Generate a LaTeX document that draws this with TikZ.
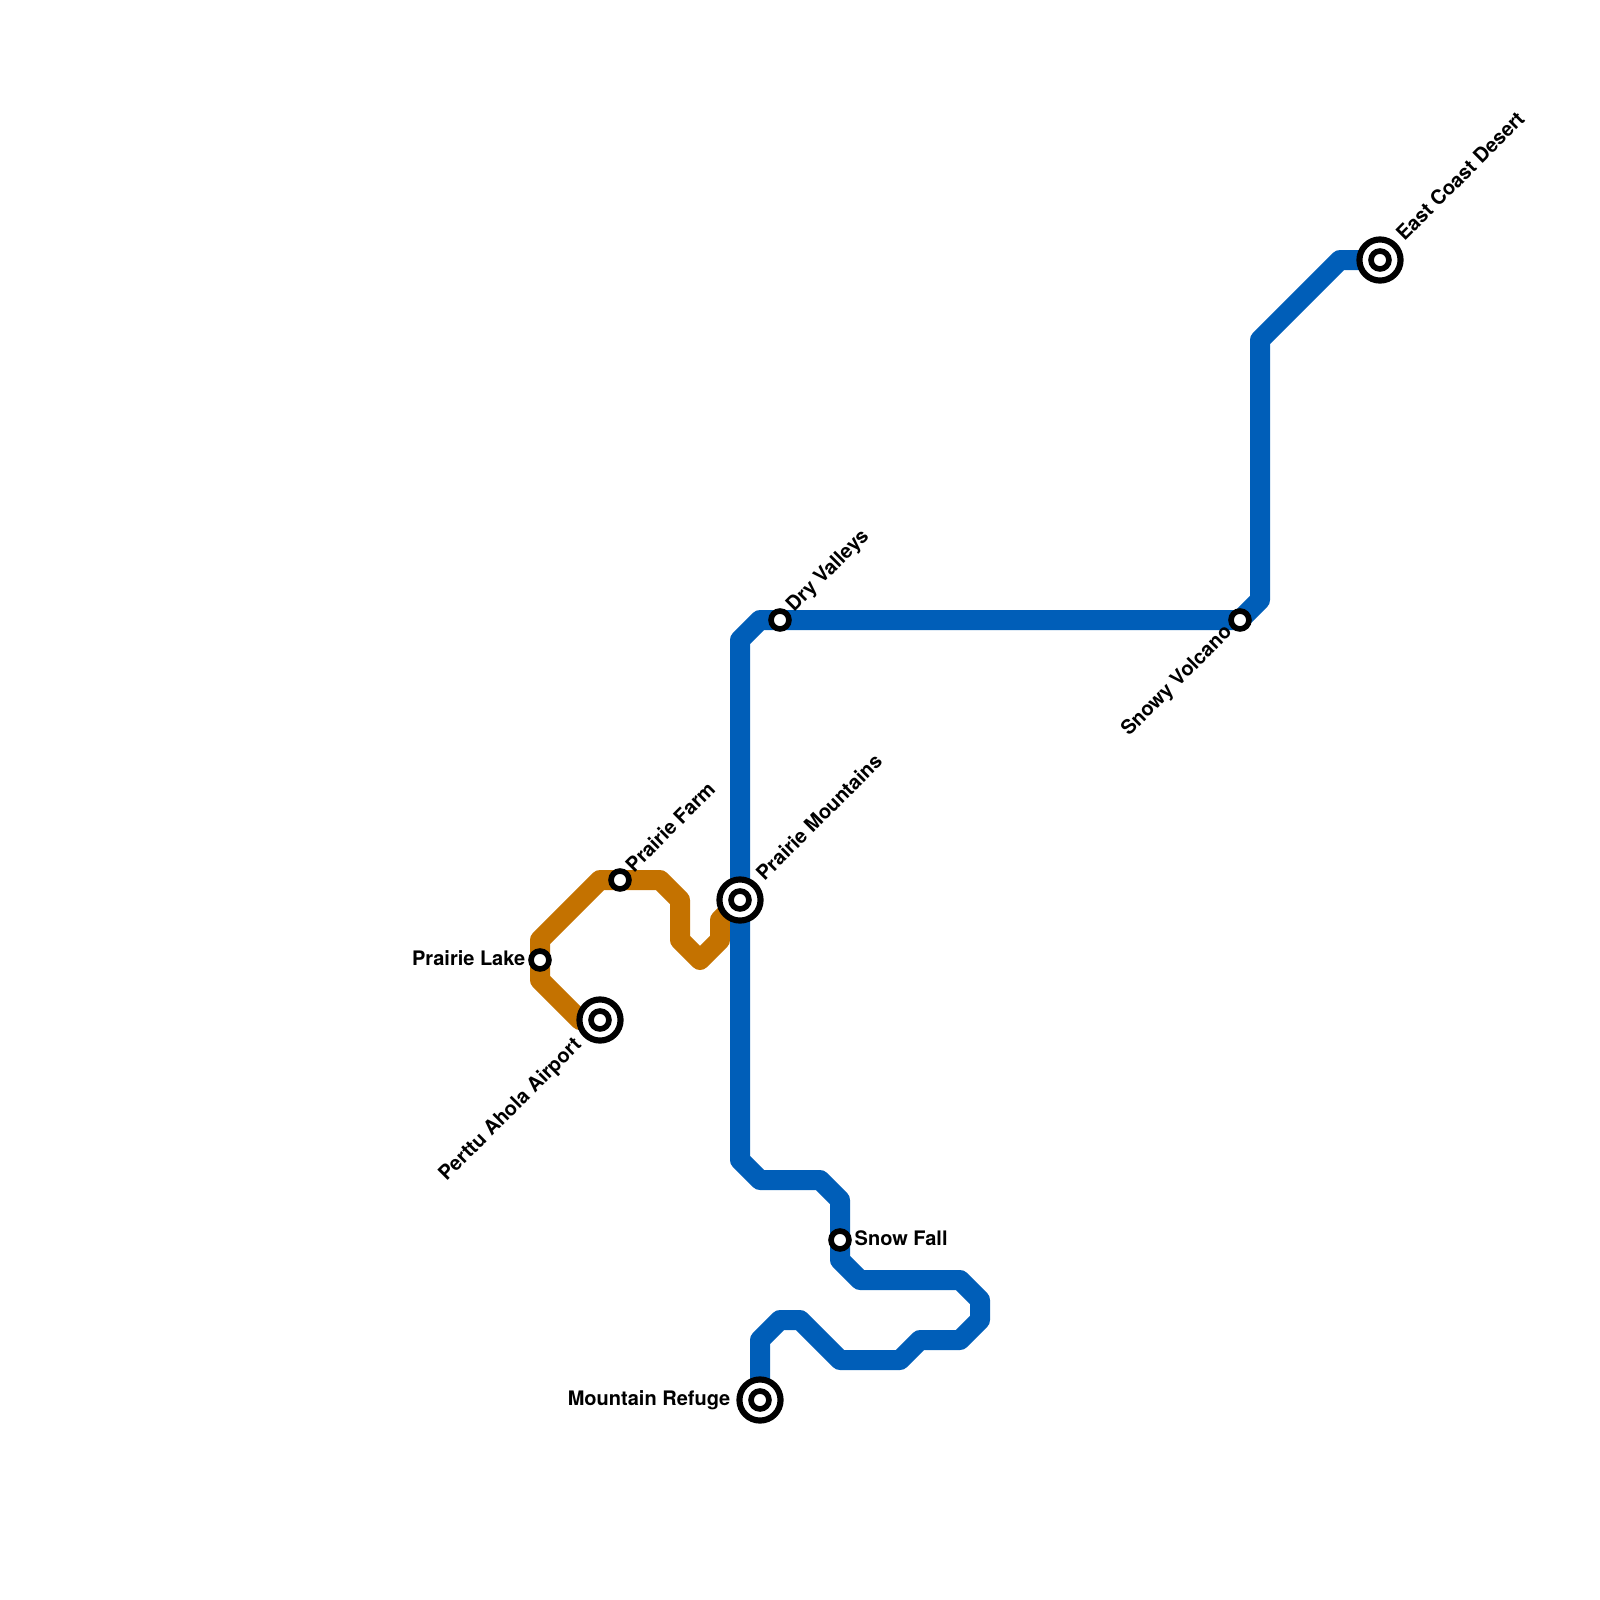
\documentclass[tikz,border=0pt]{standalone}
\usepackage{fontspec}
\setmainfont{TeX Gyre Heros}
\definecolor{lineblue}{HTML}{005EB8}
\definecolor{lineorange}{HTML}{C47200}
\tikzset{
	metroline/.style={line width=5.69pt,line join=round},
	stop/.style={circle,draw=black,fill=white,line width=1.6pt,minimum size=5.1pt,inner sep=0pt},
	hub/.style={circle,draw=black,fill=white,line width=1.75pt,minimum size=11.7pt,inner sep=0pt},
	stationlabel/.style={font=\fontsize{5.69pt}{6pt}\selectfont\bfseries,inner sep=0pt}
}
\begin{document}
\begin{tikzpicture}[x=0.2cm,y=-0.2cm]
	\useasboundingbox (0,0) rectangle (80,80);
	\foreach \n/\x/\y in {airport/30/51,lake/27/48,farm/31/44,mountains/37/45,dry/39/31,volcano/62/31,desert/69/13,snow/42/62,refuge/38/70}{
		\coordinate (\n) at (\x,\y);
	}
	% orange line
	\foreach \n/\x/\y in {oz/29/51,oa/27/49,ob/27/47,oc/30/44,od/33/44,oe/34/45,of/34/47,og/35/48,oh/36/47,oi/36/46}{
		\coordinate (\n) at (\x,\y);
	}
	\draw[metroline,lineorange] (airport) -- (oz) -- (oa) -- (lake) -- (ob) -- (oc) -- (farm) -- (od) -- (oe) -- (of) -- (og) -- (oh) -- (oi) -- (mountains);
	% blue line
	\foreach \n/\x/\y in {ba/38/67,bb/39/66,bc/40/66,bd/42/68,be/45/68,bf/46/67,bg/48/67,bh/49/66,bi/49/65,bj/48/64,bk/43/64,bl/42/63,bm/42/60,bn/41/59,bo/38/59,bp/37/58,bq/37/32,br/38/31,bs/63/30,bt/63/17,bu/67/13}{
		\coordinate (\n) at (\x,\y);
	}
	\draw[metroline,lineblue] (refuge) -- (ba) -- (bb) -- (bc) -- (bd) -- (be) -- (bf) -- (bg) -- (bh) -- (bi) -- (bj) -- (bk) -- (bl) -- (snow) -- (bm) -- (bn) -- (bo) -- (bp) -- (mountains) -- (bq) -- (br) -- (dry) -- (volcano) -- (bs) -- (bt) -- (bu) -- (desert);
	% stations
	\foreach \n in {airport,mountains,desert,refuge}{
		\node[hub] (\n-ring) at (\n) {};
	}
	\foreach \n in {airport,lake,farm,mountains,dry,volcano,desert,snow,refuge}{
		\node[stop] (\n-stop) at (\n) {};
	}
	% labels
	\node[stationlabel,anchor=west,rotate=45] (desert-label) at ([shift={(0.95,-1.15)}]desert) {East Coast Desert};
	\node[stationlabel,anchor=west,rotate=45] (mountains-label) at ([shift={(0.95,-1.15)}]mountains) {Prairie Mountains};
	\node[stationlabel,anchor=west,rotate=45] (dry-label) at ([shift={(0.5,-0.52)}]dry) {Dry Valleys};
	\node[stationlabel,anchor=west,rotate=45] (farm-label) at ([shift={(0.42,-0.58)}]farm) {Prairie Farm};
	\node[stationlabel,anchor=east,rotate=45] (volcano-label) at ([shift={(-0.52,0.45)}]volcano) {Snowy Volcano};
	\node[stationlabel,anchor=east,rotate=45] (airport-label) at ([shift={(-1.05,1.1)}]airport) {Perttu Ahola Airport};
	\node[stationlabel,anchor=east] (lake-label) at ([xshift=-0.14cm,yshift=0.02cm]lake) {Prairie Lake};
	\node[stationlabel,anchor=east] (refuge-label) at ([xshift=-0.29cm]refuge) {Mountain Refuge};
	\node[stationlabel,anchor=west] (snow-label) at ([xshift=0.14cm,yshift=0.02cm]snow) {Snow Fall};
\end{tikzpicture}
\end{document}
